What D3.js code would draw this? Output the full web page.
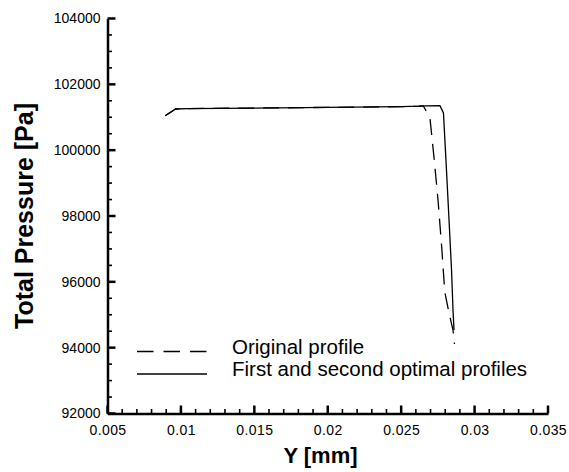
<!DOCTYPE html>
<html>
<head>
<meta charset="utf-8">
<script src="https://cdn.jsdelivr.net/npm/d3@7"></script>
<style>
  html, body { margin: 0; padding: 0; background: #fff; }
  svg { display: block; font-family: "Liberation Sans", Arial, sans-serif; }
</style>
</head>
<body>
<svg id="chart" width="569" height="472"></svg>
<script>
// ---- data ----
const originalY = [0.00893, 0.00964, 0.0105, 0.0150, 0.0200, 0.0250, 0.0262, 0.02651, 0.02696, 0.02724, 0.02751, 0.02776, 0.02797, 0.02826, 0.02853, 0.02863];
const originalP = [101047, 101251, 101265, 101280, 101300, 101320, 101335, 101345, 100977, 99762, 98486, 97058, 95691, 95053, 94537, 94111];

const optimalY = [0.00893, 0.00964, 0.0105, 0.0150, 0.0200, 0.0250, 0.0262, 0.02662, 0.02764, 0.02788, 0.02805, 0.02826, 0.02843, 0.02853, 0.0286];
const optimalP = [101047, 101251, 101265, 101280, 101300, 101320, 101335, 101345, 101351, 101129, 99701, 97878, 96359, 95144, 94537];

const xMajorTicks = [0.005, 0.01, 0.015, 0.02, 0.025, 0.03, 0.035];
const xTickLabels = ["0.005", "0.01", "0.015", "0.02", "0.025", "0.03", "0.035"];
const yMajorTicks = [92000, 94000, 96000, 98000, 100000, 102000, 104000];
const yTickLabels = ["92000", "94000", "96000", "98000", "100000", "102000", "104000"];
const legendLabels = ["Original profile", "First and second optimal profiles"];
const xTitle = "Y [mm]";
const yTitle = "Total Pressure [Pa]";

// ---- layout ----
const svg = d3.select("#chart");
const x = d3.scaleLinear().domain([0.005, 0.035]).range([107.5, 548]);
const y = d3.scaleLinear().domain([92000, 104000]).range([413.5, 18.5]);
const X0 = 107.5, Y0 = 413.5;

const xMinor = d3.range(5, 36).map(d => d / 1000).filter(v => !xMajorTicks.some(m => Math.abs(m - v) < 1e-9));
const yMinor = d3.range(92000, 104001, 500).filter(v => v % 2000 !== 0);

// axes (domain + labels)
const xAxis = svg.append("g").attr("transform", `translate(0,${Y0})`)
  .call(d3.axisBottom(x).tickValues(xMajorTicks).tickSize(0).tickPadding(7)
    .tickFormat((d, i) => xTickLabels[i]));
const yAxis = svg.append("g").attr("transform", `translate(${X0},0)`)
  .call(d3.axisLeft(y).tickValues(yMajorTicks).tickSize(0).tickPadding(7)
    .tickFormat((d, i) => yTickLabels[i]));

[xAxis, yAxis].forEach(g => {
  g.select(".domain").attr("stroke", "#000").attr("stroke-width", 2.5);
  g.selectAll(".tick line").remove();
  g.selectAll("text").attr("fill", "#000").style("font-size", "14px")
    .style("font-family", "'Liberation Sans', Arial, sans-serif");
});
xAxis.selectAll("text").attr("dy", "1.0em").style("letter-spacing", "0.4px");

// ticks (drawn from scales, pointing inward)
svg.selectAll("line.xmin").data(xMinor).join("line").attr("class", "xmin")
  .attr("x1", d => x(d)).attr("x2", d => x(d))
  .attr("y1", Y0).attr("y2", Y0 - 4.5).attr("stroke", "#000").attr("stroke-width", 1.6);
svg.selectAll("line.ymin").data(yMinor).join("line").attr("class", "ymin")
  .attr("y1", d => y(d)).attr("y2", d => y(d))
  .attr("x1", X0).attr("x2", X0 + 4.5).attr("stroke", "#000").attr("stroke-width", 1.6);
svg.selectAll("line.xmaj").data(xMajorTicks).join("line").attr("class", "xmaj")
  .attr("x1", d => x(d)).attr("x2", d => x(d))
  .attr("y1", Y0).attr("y2", Y0 - 8).attr("stroke", "#000").attr("stroke-width", 2.5);
svg.selectAll("line.ymaj").data(yMajorTicks).join("line").attr("class", "ymaj")
  .attr("y1", d => y(d)).attr("y2", d => y(d))
  .attr("x1", X0).attr("x2", X0 + 8).attr("stroke", "#000").attr("stroke-width", 2.5);

// lines
const line = d3.line().x(d => x(d[0])).y(d => y(d[1]));
const origData = originalY.map((v, i) => [v, originalP[i]]);
const optData = optimalY.map((v, i) => [v, optimalP[i]]);

svg.append("path").datum(origData).attr("d", line)
  .attr("fill", "none").attr("stroke", "#000").attr("stroke-width", 1.3)
  .attr("stroke-dasharray", "16,9");
svg.append("path").datum(optData).attr("d", line)
  .attr("fill", "none").attr("stroke", "#000").attr("stroke-width", 1.3);

// legend
const leg = svg.append("g");
leg.append("line").attr("x1", 137).attr("x2", 207).attr("y1", 351.5).attr("y2", 351.5)
  .attr("stroke", "#000").attr("stroke-width", 1.3).attr("stroke-dasharray", "16.5,10");
leg.append("line").attr("x1", 137).attr("x2", 207).attr("y1", 374).attr("y2", 374)
  .attr("stroke", "#000").attr("stroke-width", 1.3);
leg.append("text").attr("x", 232).attr("y", 353.5).text(legendLabels[0])
  .style("font-size", "20.5px").attr("fill", "#000");
leg.append("text").attr("x", 232).attr("y", 375.5).text(legendLabels[1])
  .style("font-size", "20.5px").attr("fill", "#000");

// titles
svg.append("text").attr("x", 320.5).attr("y", 463).attr("text-anchor", "middle")
  .style("font-size", "22px").style("font-weight", "bold").attr("fill", "#000").text(xTitle);
svg.append("text").attr("transform", "translate(32.5,216) rotate(-90)").attr("text-anchor", "middle")
  .style("font-size", "25px").style("font-weight", "bold").attr("fill", "#000").text(yTitle);
</script>
</body>
</html>
